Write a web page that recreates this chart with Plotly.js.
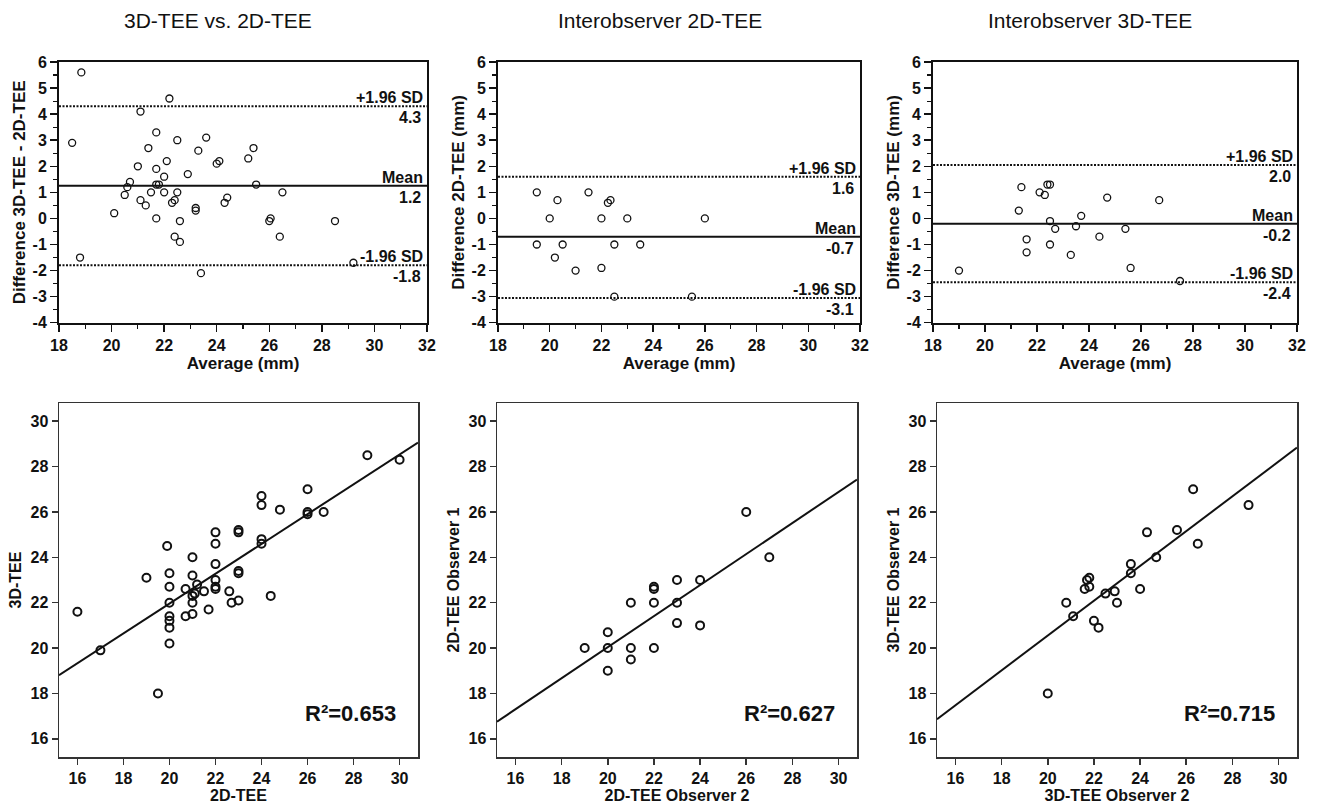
<!DOCTYPE html>
<html>
<head>
<meta charset="utf-8">
<script src="https://cdn.plot.ly/plotly-3.0.1.min.js"></script>
<style>html,body{margin:0;padding:0;background:#fff;}#chart{width:1318px;height:808px;}</style>
</head>
<body>
<div id="chart"></div>
<script>
// ---------- Data ----------
// Panel A: Bland-Altman 3D-TEE vs 2D-TEE
const ba1Avg  = [18.85,18.5,18.8,20.1,20.5,20.6,20.7,21.0,21.1,21.1,21.3,21.4,21.5,21.7,21.7,21.7,21.8,21.7,22.0,22.0,22.1,22.2,22.3,22.4,22.5,22.5,22.6,22.4,22.6,22.9,23.2,23.2,23.3,23.4,23.6,24.1,24.0,24.3,24.4,25.2,25.4,25.5,26.5,26.0,26.05,26.4,28.5,29.2];
const ba1Diff = [5.6,2.9,-1.5,0.2,0.9,1.2,1.4,2.0,4.1,0.7,0.5,2.7,1.0,3.3,1.9,1.3,1.3,0.0,1.6,1.0,2.2,4.6,0.6,0.7,3.0,1.0,-0.1,-0.7,-0.9,1.7,0.3,0.4,2.6,-2.1,3.1,2.2,2.1,0.6,0.8,2.3,2.7,1.3,1.0,-0.1,0.0,-0.7,-0.1,-1.7];
const ba1Lines = [4.3, 1.25, -1.8];          // +1.96 SD, mean, -1.96 SD
const ba1Labels = ["4.3", "1.2", "-1.8"];

// Panel B: Interobserver 2D-TEE (Bland-Altman)
const ba2Avg  = [19.5,19.5,20.0,20.2,20.3,20.5,21.0,21.5,22.0,22.0,22.25,22.35,22.5,22.5,23.0,23.5,26.0,25.5];
const ba2Diff = [1.0,-1.0,0.0,-1.5,0.7,-1.0,-2.0,1.0,0.0,-1.9,0.6,0.7,-1.0,-3.0,0.0,-1.0,0.0,-3.0];
const ba2Lines = [1.6, -0.7, -3.05];
const ba2Labels = ["1.6", "-0.7", "-3.1"];

// Panel C: Interobserver 3D-TEE (Bland-Altman)
const ba3Avg  = [19.0,21.3,21.4,21.6,21.6,22.1,22.3,22.4,22.5,22.5,22.5,22.7,23.3,23.5,23.7,24.4,24.7,26.7,25.4,25.6,27.5];
const ba3Diff = [-2.0,0.3,1.2,-0.8,-1.3,1.0,0.9,1.3,1.3,-0.1,-1.0,-0.4,-1.4,-0.3,0.1,-0.7,0.8,0.7,-0.4,-1.9,-2.4];
const ba3Lines = [2.05, -0.2, -2.45];
const ba3Labels = ["2.0", "-0.2", "-2.4"];

const limitNames = ["+1.96 SD", "Mean", "-1.96 SD"];

// Panel D: 3D-TEE vs 2D-TEE correlation
const sc1X = [16.0,17.0,19.0,19.5,19.9,20.0,20.0,20.0,20.0,20.0,20.0,20.0,20.7,20.7,21.0,21.0,21.0,21.0,21.0,21.1,21.2,21.5,21.7,22.0,22.0,22.0,22.0,22.0,22.0,22.6,22.7,23.0,23.0,23.0,23.0,23.0,24.0,24.0,24.0,24.0,24.4,24.8,26.0,26.0,26.0,26.7,28.6,30.0];
const sc1Y = [21.6,19.9,23.1,18.0,24.5,23.3,22.7,22.0,21.4,21.2,20.9,20.2,22.6,21.4,24.0,23.2,22.3,22.0,21.5,22.4,22.8,22.5,21.7,25.1,24.6,23.7,23.0,22.7,22.6,22.5,22.0,22.1,25.2,25.1,23.4,23.3,26.7,26.3,24.8,24.6,22.3,26.1,27.0,26.0,25.9,26.0,28.5,28.3];
const fit1 = {slope: 0.657, intercept: 8.82, r2: "R²=0.653"};

// Panel E: 2D-TEE observer 1 vs observer 2
const sc2X = [19.0,20.0,20.0,20.0,21.0,21.0,21.0,22.0,22.0,22.0,22.0,23.0,23.0,23.0,24.0,24.0,26.0,27.0];
const sc2Y = [20.0,20.7,20.0,19.0,22.0,20.0,19.5,22.7,22.6,22.0,20.0,23.0,22.0,21.1,23.0,21.0,26.0,24.0];
const fit2 = {slope: 0.684, intercept: 6.36, r2: "R²=0.627"};

// Panel F: 3D-TEE observer 1 vs observer 2
const sc3X = [20.0,20.8,21.1,21.6,21.7,21.8,21.8,22.0,22.2,22.5,22.9,23.0,23.6,23.6,24.0,24.3,24.7,25.6,26.3,26.5,28.7];
const sc3Y = [18.0,22.0,21.4,22.6,23.0,23.1,22.7,21.2,20.9,22.4,22.5,22.0,23.7,23.3,22.6,25.1,24.0,25.2,27.0,24.6,26.3];
const fit3 = {slope: 0.767, intercept: 5.21, r2: "R²=0.715"};

// Tick values / labels
const baXTicks = [18, 20, 22, 24, 26, 28, 30, 32];
const baYTicks = [-4, -3, -2, -1, 0, 1, 2, 3, 4, 5, 6];
const scTicks  = [16, 18, 20, 22, 24, 26, 28, 30];

const panelTitles = ["3D-TEE vs. 2D-TEE", "Interobserver 2D-TEE", "Interobserver 3D-TEE"];
const baYTitles = ["Difference 3D-TEE - 2D-TEE", "Difference 2D-TEE (mm)", "Difference 3D-TEE (mm)"];
const baXTitle = "Average (mm)";
const scXTitles = ["2D-TEE", "2D-TEE Observer 2", "3D-TEE Observer 2"];
const scYTitles = ["3D-TEE", "2D-TEE Observer 1", "3D-TEE Observer 1"];

// ---------- Layout geometry ----------
const W = 1318, H = 808;
const px = (a, b) => [a / W, b / W];
const py = (top, bottom) => [1 - bottom / H, 1 - top / H];
const baXRange = [18, 32], baYRange = [-4, 6];
const scRange = [15.2, 30.8];

const FONT = "Liberation Sans";
const INK = "#111111";
const bold = v => '<b>' + v + '</b>';

const traces = [];
const annotations = [];

const baSets = [
  {x: ba1Avg, y: ba1Diff, lines: ba1Lines, labels: ba1Labels},
  {x: ba2Avg, y: ba2Diff, lines: ba2Lines, labels: ba2Labels},
  {x: ba3Avg, y: ba3Diff, lines: ba3Lines, labels: ba3Labels}
];
baSets.forEach((s, i) => {
  const xa = 'x' + (i + 1), ya = 'y' + (i + 1);
  traces.push({type: 'scatter', mode: 'markers', x: s.x, y: s.y, xaxis: xa, yaxis: ya,
    marker: {symbol: 'circle-open', size: 7, color: INK, line: {width: 1.3, color: INK}},
    showlegend: false, hoverinfo: 'x+y', cliponaxis: false});
  s.lines.forEach((v, k) => {
    traces.push({type: 'scatter', mode: 'lines', x: baXRange, y: [v, v], xaxis: xa, yaxis: ya,
      line: {color: INK, width: 2, dash: k === 1 ? 'solid' : '2px,1.5px'},
      showlegend: false, hoverinfo: 'skip'});
    annotations.push({xref: xa, yref: ya, x: baXRange[1], y: v, xanchor: 'right', yanchor: 'bottom',
      xshift: -2, yshift: -2, showarrow: false, text: bold(limitNames[k]),
      font: {family: FONT, size: 16, color: INK}});
    annotations.push({xref: xa, yref: ya, x: baXRange[1], y: v, xanchor: 'right', yanchor: 'top',
      xshift: -4, yshift: -1, showarrow: false, text: bold(s.labels[k]),
      font: {family: FONT, size: 16, color: INK}});
  });
});

const scSets = [
  {x: sc1X, y: sc1Y, fit: fit1},
  {x: sc2X, y: sc2Y, fit: fit2},
  {x: sc3X, y: sc3Y, fit: fit3}
];
scSets.forEach((s, i) => {
  const xa = 'x' + (i + 4), ya = 'y' + (i + 4);
  traces.push({type: 'scatter', mode: 'markers', x: s.x, y: s.y, xaxis: xa, yaxis: ya,
    marker: {symbol: 'circle-open', size: 8, color: INK, line: {width: 2, color: INK}},
    showlegend: false, hoverinfo: 'x+y'});
  traces.push({type: 'scatter', mode: 'lines', x: scRange,
    y: scRange.map(v => s.fit.intercept + s.fit.slope * v), xaxis: xa, yaxis: ya,
    line: {color: INK, width: 2}, showlegend: false, hoverinfo: 'skip'});
  annotations.push({xref: xa, yref: ya, x: 29.95, y: 17.1, xanchor: 'right', yanchor: 'middle',
    showarrow: false, text: bold(s.fit.r2), font: {family: FONT, size: 22, color: INK}});
});

// Panel titles
const titleX = [218, 660, 1090];
panelTitles.forEach((t, i) => {
  annotations.push({xref: 'paper', yref: 'paper', x: titleX[i] / W, y: 1 - 20 / H,
    xanchor: 'center', yanchor: 'middle', showarrow: false, text: t,
    font: {family: FONT, size: 21, color: INK}});
});

const layout = {
  width: W, height: H,
  margin: {l: 0, r: 0, t: 0, b: 0},
  paper_bgcolor: '#fff', plot_bgcolor: '#fff',
  showlegend: false,
  font: {family: FONT, size: 16, color: INK},
  annotations: annotations
};

const baXDom = [px(59, 427), px(498, 860), px(933, 1297)];
const baYDom = py(62, 322.7);
const scXDom = [px(59, 418), px(497, 857), px(937, 1297)];
const scYDom = py(403, 757);

const tf = () => ({family: FONT, size: 16, color: INK});

for (let i = 0; i < 3; i++) {
  const n = i + 1;
  layout['xaxis' + n] = {
    domain: baXDom[i], anchor: 'y' + n, range: baXRange,
    tickmode: 'array', tickvals: baXTicks, ticktext: baXTicks.map(bold),
    showgrid: false, zeroline: false, showline: true, mirror: true, linecolor: INK, linewidth: 2,
    ticks: 'outside', ticklen: 7, tickwidth: 1.5, tickcolor: INK, tickfont: tf(),
    minor: {dtick: 1, ticks: 'outside', ticklen: 4, tickwidth: 1.2, tickcolor: INK, showgrid: false},
    title: {text: bold(baXTitle), font: {family: FONT, size: 17, color: INK}, standoff: 2}
  };
  layout['yaxis' + n] = {
    domain: baYDom, anchor: 'x' + n, range: baYRange,
    tickmode: 'array', tickvals: baYTicks, ticktext: baYTicks.map(bold),
    showgrid: false, zeroline: false, showline: true, mirror: true, linecolor: INK, linewidth: 2,
    ticks: 'outside', ticklen: 7, tickwidth: 1.5, tickcolor: INK, tickfont: tf(),
    minor: {dtick: 0.5, ticks: 'outside', ticklen: 4, tickwidth: 1.2, tickcolor: INK, showgrid: false},
    title: {text: bold(baYTitles[i]), font: {family: FONT, size: 17, color: INK}, standoff: 3}
  };
  const m = i + 4;
  layout['xaxis' + m] = {
    domain: scXDom[i], anchor: 'y' + m, range: scRange,
    tickmode: 'array', tickvals: scTicks, ticktext: scTicks.map(bold),
    showgrid: false, zeroline: false, showline: true, mirror: true, linecolor: '#333', linewidth: 1.5,
    ticks: 'outside', ticklen: 6, tickwidth: 1.5, tickcolor: '#333', tickfont: tf(),
    title: {text: bold(scXTitles[i]), font: {family: FONT, size: 16, color: INK}, standoff: 3}
  };
  layout['yaxis' + m] = {
    domain: scYDom, anchor: 'x' + m, range: scRange,
    tickmode: 'array', tickvals: scTicks, ticktext: scTicks.map(bold),
    showgrid: false, zeroline: false, showline: true, mirror: true, linecolor: '#333', linewidth: 1.5,
    ticks: 'outside', ticklen: 6, tickwidth: 1.5, tickcolor: '#333', tickfont: tf(),
    title: {text: bold(scYTitles[i]), font: {family: FONT, size: 16, color: INK}, standoff: 5}
  };
}

Plotly.newPlot('chart', traces, layout, {displayModeBar: false, staticPlot: true});
</script>
</body>
</html>
